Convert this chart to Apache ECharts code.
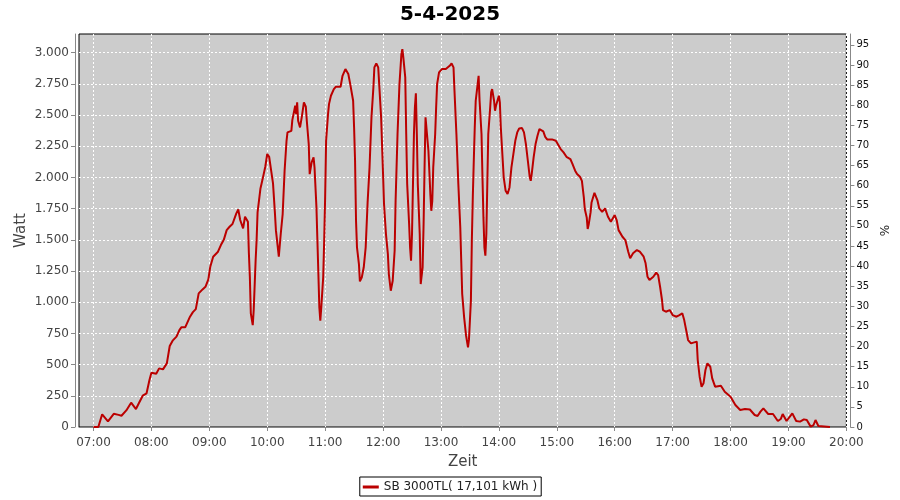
<!DOCTYPE html>
<html><head><meta charset="utf-8">
<script src="https://cdn.jsdelivr.net/npm/echarts@6/dist/echarts.min.js"></script>
<style>html,body{margin:0;padding:0;background:#fff}#c{width:900px;height:500px}</style>
</head><body><div id="c"></div>
<script>
const chartTitle = '5-4-2025';
const seriesName = 'SB 3000TL( 17,101 kWh )';
const xAxisName = 'Zeit';
const leftAxisName = 'Watt';
const rightAxisName = '%';

const times = ['07:00','07:05','07:09','07:15','07:21','07:26','07:29','07:34','07:39','07:44','07:47','07:51','07:55','07:58',
'08:00','08:05','08:08','08:12','08:14','08:16','08:19','08:22','08:26','08:29','08:31','08:35','08:40','08:43','08:46','08:49','08:53','08:56','08:59',
'09:01','09:04','09:09','09:12','09:15','09:18','09:21','09:24','09:28','09:30','09:32','09:35','09:37','09:40','09:41','09:42','09:43','09:45','09:46','09:48','09:49','09:50','09:53','09:55','09:58',
'10:00','10:02','10:04','10:06','10:08','10:09','10:12','10:14','10:16','10:18','10:20','10:21','10:23','10:25','10:26','10:29','10:30','10:31','10:32','10:34','10:36','10:38','10:40','10:41','10:43','10:44','10:46','10:48','10:49','10:51','10:52','10:53','10:54','10:55','10:56','10:58','10:59',
'11:00','11:01','11:03','11:04','11:06','11:09','11:11','11:16','11:18','11:21','11:22','11:24','11:26','11:29','11:30','11:31','11:32','11:33','11:35','11:36','11:38','11:40','11:42','11:44','11:46','11:48','11:50','11:51','11:53','11:55','11:56','11:58',
'12:00','12:01','12:03','12:05','12:06','12:08','12:10','12:12','12:13','12:15','12:17','12:19','12:20','12:21','12:23','12:24','12:25','12:27','12:28','12:29','12:30','12:32','12:33','12:34','12:35','12:36','12:38','12:39','12:41','12:42','12:43','12:44','12:46','12:47','12:49','12:50','12:51','12:52','12:54','12:55','12:56','12:58',
'13:01','13:05','13:09','13:11','13:13','13:14','13:16','13:18','13:20','13:21','13:22','13:24','13:26','13:28','13:29','13:31','13:32','13:33','13:34','13:35','13:36','13:38','13:39','13:40','13:42','13:43','13:44','13:45','13:46','13:47','13:48','13:49','13:51','13:52','13:53','13:55','13:56','13:57','13:59',
'14:00','14:01','14:02','14:04','14:05','14:07','14:09','14:11','14:13','14:15','14:17','14:19','14:21','14:24','14:26','14:28','14:30','14:32','14:33','14:34','14:36','14:38','14:40','14:42','14:44','14:46','14:48','14:50','14:55','14:59',
'15:01','15:04','15:07','15:10','15:14','15:16','15:19','15:21','15:24','15:26','15:28','15:29','15:31','15:32','15:33','15:35','15:36','15:39','15:42','15:44','15:47','15:50','15:53','15:56','15:58',
'16:00','16:02','16:04','16:08','16:11','16:14','16:16','16:19','16:23','16:26','16:30','16:32','16:34','16:36','16:40','16:43','16:45','16:47','16:49','16:50','16:53','16:57',
'17:00','17:04','17:07','17:10','17:12','17:14','17:16','17:19','17:21','17:25','17:26','17:28','17:30','17:32','17:34','17:36','17:39','17:41','17:44','17:50','17:54',
'18:00','18:05','18:10','18:15','18:20','18:25','18:28','18:31','18:34','18:39','18:44','18:49','18:52','18:54','18:58',
'19:04','19:08','19:12','19:16','19:19','19:23','19:26','19:28','19:31','19:33','19:43'];

const watts = [0,0,102,45,106,97,90,133,195,144,190,251,270,377,
435,427,470,462,457,510,649,692,724,777,799,799,884,921,945,1071,1103,1124,1183,
1285,1365,1405,1458,1500,1578,1605,1627,1712,1744,1659,1592,1685,1645,1392,1204,911,817,937,1338,1498,1720,1912,1979,2086,
2188,2166,2059,1953,1712,1578,1365,1547,1707,2054,2294,2361,2348,2374,2460,2575,2508,2602,2455,2401,2494,2602,2567,2455,2268,2027,2121,2161,2081,1760,1493,1226,959,852,959,1200,1493,
1840,2294,2508,2588,2655,2708,2727,2727,2815,2869,2874,2829,2748,2615,2401,2134,1653,1440,1306,1167,1200,1280,1440,1800,2081,2482,2722,2882,2914,2882,2748,2482,
2027,1787,1547,1386,1226,1092,1172,1413,1813,2348,2748,2989,3029,2962,2802,2348,1947,1627,1440,1333,1547,2348,2562,2674,2348,1947,1547,1146,1280,1627,2081,2482,2494,2214,1867,1733,1813,2081,2348,2562,2748,2842,
2869,2869,2895,2914,2882,2695,2348,1947,1600,1333,1066,879,732,639,700,1012,1500,1850,2134,2401,2615,2748,2815,2615,2348,2001,1680,1440,1373,1547,1947,2348,2562,2682,2708,2615,2535,2575,2562,
2655,2602,2401,2134,2001,1893,1867,1920,2081,2188,2294,2361,2393,2396,2361,2268,2134,2001,1973,2027,2161,2268,2334,2388,2401,2369,2326,2305,2305,2294,
2268,2228,2201,2166,2148,2113,2054,2027,2006,1973,1840,1747,1680,1587,1620,1720,1800,1877,1819,1752,1725,1752,1685,1645,1659,
1699,1659,1578,1525,1498,1405,1352,1392,1418,1405,1365,1312,1204,1178,1204,1237,1218,1124,1018,937,924,937,
897,884,897,911,857,777,697,670,670,684,537,403,323,350,457,510,483,390,323,331,283,
243,176,136,144,140,96,88,123,149,104,104,48,64,104,48,
109,48,43,61,56,3,16,56,8,0,0];

const xTickLabels = ['07:00','08:00','09:00','10:00','11:00','12:00','13:00','14:00','15:00','16:00','17:00','18:00','19:00','20:00'];
const wattTicks = [0,250,500,750,1000,1250,1500,1750,2000,2250,2500,2750,3000];
const pctTicks = [0,5,10,15,20,25,30,35,40,45,50,55,60,65,70,75,80,85,90,95];

function toMin(s){const p=s.split(':');return (+p[0])*60+(+p[1]);}
function fmtTime(v){const h=Math.floor(v/60),m=Math.round(v%60);return String(h).padStart(2,'0')+':'+String(m).padStart(2,'0');}
function fmtThousands(v){return String(v).replace(/\B(?=(\d{3})+(?!\d))/g,'.');}

const data = times.map((t,i)=>[toMin(t), watts[i]]);
const xTickVals = xTickLabels.map(toMin);
const FONT = 'DejaVu Sans';
const gridLine = {show:true,lineStyle:{color:'#ffffff',width:1,type:[2,2]}};

const chart = echarts.init(document.getElementById('c'), null, {renderer:'canvas'});
chart.setOption({
  animation:false,
  backgroundColor:'#ffffff',
  textStyle:{fontFamily:FONT},
  title:{text:chartTitle,left:'center',top:0,textStyle:{fontSize:20,fontWeight:'bold',color:'#000',fontFamily:FONT}},
  legend:{data:[seriesName],left:'center',top:477,borderColor:'#000',borderWidth:1,padding:[4,4,3,3],
    itemWidth:16,itemHeight:3,icon:'rect',itemGap:5,textStyle:{fontSize:12,color:'#222',fontFamily:FONT}},
  grid:{left:79,right:52,top:34,bottom:73,show:true,backgroundColor:'#cccccc',borderColor:'#000',borderWidth:1,containLabel:false},
  xAxis:{type:'value',min:405,max:1200,offset:4,
    name:xAxisName,nameLocation:'middle',nameGap:24,nameTextStyle:{fontSize:15,color:'#444',fontFamily:FONT},
    axisLine:{show:true,lineStyle:{color:'#888',width:1}},
    axisTick:{show:true,length:4,customValues:xTickVals,lineStyle:{color:'#888'}},
    axisLabel:{customValues:xTickVals,formatter:fmtTime,fontSize:12,color:'#444',margin:6,fontFamily:FONT},
    splitLine:gridLine},
  yAxis:[
    {type:'value',min:0,max:3150,position:'left',offset:4,
     name:leftAxisName,nameLocation:'middle',nameGap:46,nameRotate:90,nameMoveOverlap:false,nameTextStyle:{fontSize:15,color:'#444',fontFamily:FONT},
     axisLine:{show:true,lineStyle:{color:'#888',width:1}},
     axisTick:{show:true,length:4,customValues:wattTicks,lineStyle:{color:'#888'}},
     axisLabel:{customValues:wattTicks,formatter:fmtThousands,fontSize:12,color:'#444',margin:6,fontFamily:FONT},
     splitLine:gridLine},
    {type:'value',min:0,max:97.7,position:'right',offset:4,
     name:rightAxisName,nameLocation:'middle',nameGap:24,nameRotate:90,nameTextStyle:{fontSize:12,color:'#222',fontFamily:FONT},
     axisLine:{show:true,lineStyle:{color:'#888',width:1}},
     axisTick:{show:true,length:4,customValues:pctTicks,lineStyle:{color:'#888'}},
     axisLabel:{customValues:pctTicks,fontSize:10,color:'#111',margin:6,fontFamily:FONT},
     splitLine:{show:false}}
  ],
  series:[{name:seriesName,type:'line',yAxisIndex:0,data:data,showSymbol:false,symbol:'none',
    color:'#bb0000',lineStyle:{color:'#bb0000',width:2},clip:true}]
});
</script>
</body></html>
